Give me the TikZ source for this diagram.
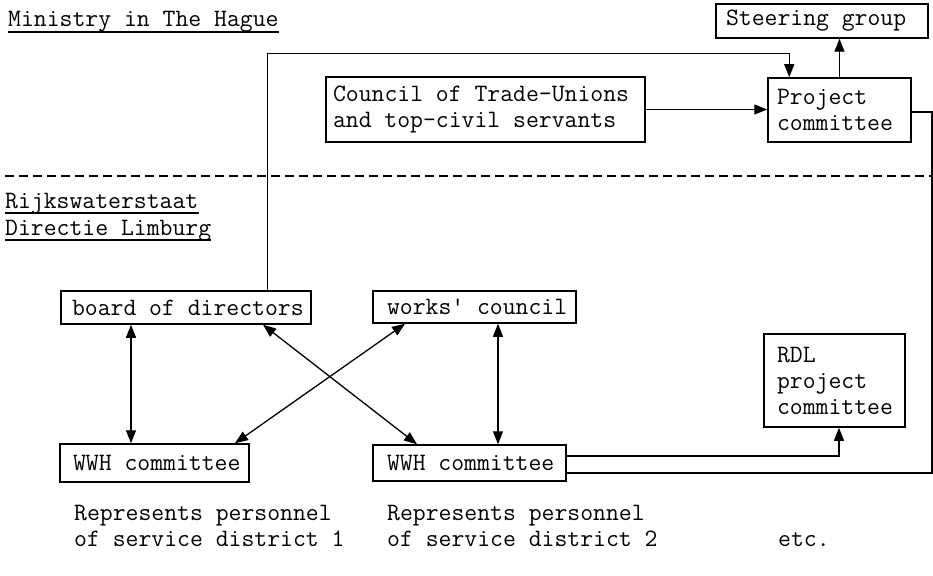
\documentclass[tikz,border=0pt]{standalone}
\usepackage{fontspec}
\usetikzlibrary{arrows.meta}
\newcommand\diafont{\ttfamily\fontsize{25pt}{26pt}\selectfont}
\newcommand\ind[1]{\hspace*{#1pt}}
\begin{document}
\begin{tikzpicture}[x=1pt,y=-1pt,
  box/.style={draw, line width=1.5pt, inner xsep=0pt, inner ysep=0pt, align=left, font=\diafont,
    execute at begin node={\spaceskip=0pt\xspaceskip=0pt\relax}},
  lbl/.style={inner sep=0pt, font=\diafont, align=left},
  ul/.style={line width=1.6pt},
  con/.style={line width=1.3pt},
  arr/.style={con, -{Triangle[length=13pt,width=10pt]}},
  darr/.style={con, {Triangle[length=13pt,width=10pt]}-{Triangle[length=13pt,width=10pt]}},
  dashline/.style={line width=1.7pt, dash pattern=on 9pt off 5pt}]
\useasboundingbox (0,0) rectangle (933,575);

% boxes
\node[box, text width=212pt, minimum height=34pt] (steer) at (822,21) {\ind{10}Steering group};
\node[box, text width=143pt, minimum height=64pt] (proj) at (839.5,110) {\ind{9}Project\\\ind{9}committee};
\node[box, text width=319pt, minimum height=65pt] (council) at (485.5,109.5) {\ind{7}Council of Trade-Unions\\\ind{7}and top-civil servants};
\node[box, text width=250pt, minimum height=33pt] (board) at (186,307.5) {\ind{11}board of directors};
\node[box, text width=203pt, minimum height=32pt] (works) at (474.5,307) {\ind{14}works' council};
\node[box, text width=189pt, minimum height=38pt] (wwh1) at (154.5,463) {\ind{13}WWH committee};
\node[box, text width=193pt, minimum height=36pt] (wwh2) at (469.5,463) {\ind{14}WWH committee};
\node[box, text width=141pt, minimum height=93pt] (rdl) at (834.5,380.5) {\ind{13}RDL\\\ind{13}project\\\ind{13}committee};

% titles
\node[lbl, anchor=base west] (min) at (8,27) {Ministry in The Hague};
\draw[ul] ([yshift=-5pt]min.base west) -- ([yshift=-5pt]min.base east);
\node[lbl, anchor=base west] (rijk) at (5,208) {Rijkswaterstaat};
\draw[ul] ([yshift=-5pt]rijk.base west) -- ([yshift=-5pt]rijk.base east);
\node[lbl, anchor=base west] (dir) at (5,235) {Directie Limburg};
\draw[ul] ([yshift=-5pt]dir.base west) -- ([yshift=-5pt]dir.base east);

% bottom notes
\node[lbl, anchor=base west] (rep1) at (74,546) {Represents personnel\\of service district 1};
\node[lbl, anchor=base west] (rep2) at (387,546) {Represents personnel\\of service district 2};
\node[lbl, anchor=base west] (etc) at (778,546) {etc.};

% helper coordinates
\coordinate (v1) at (131,0);
\coordinate (v2) at (498,0);
\coordinate (d1) at (263,0);
\coordinate (d2) at (417,0);
\coordinate (d3) at (405,0);
\coordinate (d4) at (235,0);
\coordinate (rc) at (932,300);
\coordinate (dl) at (5,176);
\coordinate (dr) at (933,176);

% connectors
\draw[dashline] (dl) -- (dr);
\draw[darr] (board.south -| v1) -- (wwh1.north -| v1);
\draw[darr] (works.south -| v2) -- (wwh2.north -| v2);
\draw[darr] (board.south -| d1) -- (wwh2.north -| d2);
\draw[darr] (works.south -| d3) -- (wwh1.north -| d4);
\draw[arr] ([xshift=-44pt]board.north east) |- ([xshift=22pt,yshift=24pt]proj.north west) -- ([xshift=22pt]proj.north west);
\draw[arr] (proj.north) -- (proj.north |- steer.south);
\draw[arr] (council.east) -- (council.east -| proj.west);
\draw[con] ([yshift=-10pt]wwh2.east) -| (rc) |- ([yshift=-2pt]proj.east);
\draw[arr] ([yshift=7pt]wwh2.east) -| ([xshift=4.5pt]rdl.south);
\end{tikzpicture}
\end{document}
